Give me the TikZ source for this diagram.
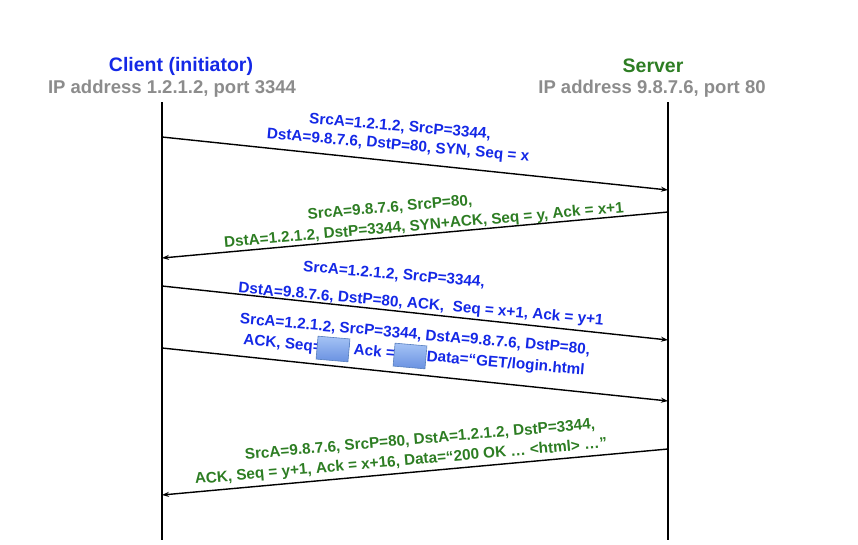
\documentclass[tikz,border=0pt]{standalone}
\usepackage{fontspec}
\setmainfont{Liberation Sans}
\usetikzlibrary{arrows.meta}
\definecolor{cblue}{RGB}{20,40,230}
\definecolor{cgreen}{RGB}{45,125,35}
\definecolor{cgray}{RGB}{140,140,140}
\definecolor{btop}{RGB}{165,195,245}
\definecolor{bbot}{RGB}{105,145,225}
\definecolor{bdraw}{RGB}{85,125,190}
\begin{document}
\begin{tikzpicture}[x=1pt,y=-1pt,
  life/.style={line width=1.6pt},
  msg/.style={line width=1.4pt,-{Stealth[length=7pt,width=5pt]}},
  lb/.style={font=\bfseries\fontsize{15.3}{16}\selectfont,inner sep=0pt},
  bl/.style={lb,text=cblue},
  gr/.style={lb,text=cgreen},
  box/.style={draw=bdraw,line width=0.6pt,top color=btop,bottom color=bbot,minimum width=32pt,minimum height=23pt,inner sep=0pt}]
\useasboundingbox (0,0) rectangle (858,544);
\node[font=\bfseries\fontsize{19.5}{22}\selectfont,text=cblue] (ct) at (181,66) {Client (initiator)};
\node[font=\bfseries\fontsize{18.5}{22}\selectfont,text=cgray] (ci) at (172,89) {IP address 1.2.1.2, port 3344};
\node[font=\bfseries\fontsize{19.5}{22}\selectfont,text=cgreen] (st) at (653,66) {Server};
\node[font=\bfseries\fontsize{18.5}{22}\selectfont,text=cgray] (si) at (652,89) {IP address 9.8.7.6, port 80};
\coordinate (ctop) at (162,102); \coordinate (cbot) at (162,540);
\coordinate (stop) at (668,102); \coordinate (sbot) at (668,540);
\draw[life] (ctop) -- (cbot);
\draw[life] (stop) -- (sbot);
\coordinate (a1) at (162,137); \coordinate (b1) at (668,190);
\coordinate (a2) at (668,212); \coordinate (b2) at (162,258);
\coordinate (a3) at (162,286); \coordinate (b3) at (668,340);
\coordinate (a4) at (162,348); \coordinate (b4) at (668,401);
\coordinate (a5) at (668,449); \coordinate (b5) at (162,495);
\draw[msg] (a1) -- (b1);
\draw[msg] (a2) -- (b2);
\draw[msg] (a3) -- (b3);
\draw[msg] (a4) -- (b4);
\draw[msg] (a5) -- (b5);
\node[bl,rotate=-5] (l1a) at (400,127) {SrcA=1.2.1.2, SrcP=3344,};
\node[bl,rotate=-5] (l1b) at (398,146) {DstA=9.8.7.6, DstP=80, SYN, Seq = x};
\node[gr,rotate=5] (l2a) at (390,208) {SrcA=9.8.7.6, SrcP=80,};
\node[gr,rotate=5] (l2b) at (424,226) {DstA=1.2.1.2, DstP=3344, SYN+ACK, Seq = y, Ack = x+1};
\node[bl,rotate=-5] (l3a) at (394,275) {SrcA=1.2.1.2, SrcP=3344,};
\node[bl,rotate=-5] (l3b) at (421,305) {DstA=9.8.7.6, DstP=80, ACK,\ \ Seq = x+1, Ack = y+1};
\node[bl,rotate=-5] (l4a) at (415,335) {SrcA=1.2.1.2, SrcP=3344, DstA=9.8.7.6, DstP=80,};
\node[bl,rotate=-5] (l4b) at (414,356) {ACK, Seq=\hspace{32pt}Ack =\hspace{32pt}Data=“GET/login.html};
\node[box,rotate=-5] (bx1) at (333,349) {};
\node[box,rotate=-5] (bx2) at (410,356) {};
\node[gr,rotate=5] (l5a) at (420,440) {SrcA=9.8.7.6, SrcP=80, DstA=1.2.1.2, DstP=3344,};
\node[gr,rotate=5] (l5b) at (401,462) {ACK, Seq = y+1, Ack = x+16, Data=“200 OK … <html> …”};
\end{tikzpicture}
\end{document}
